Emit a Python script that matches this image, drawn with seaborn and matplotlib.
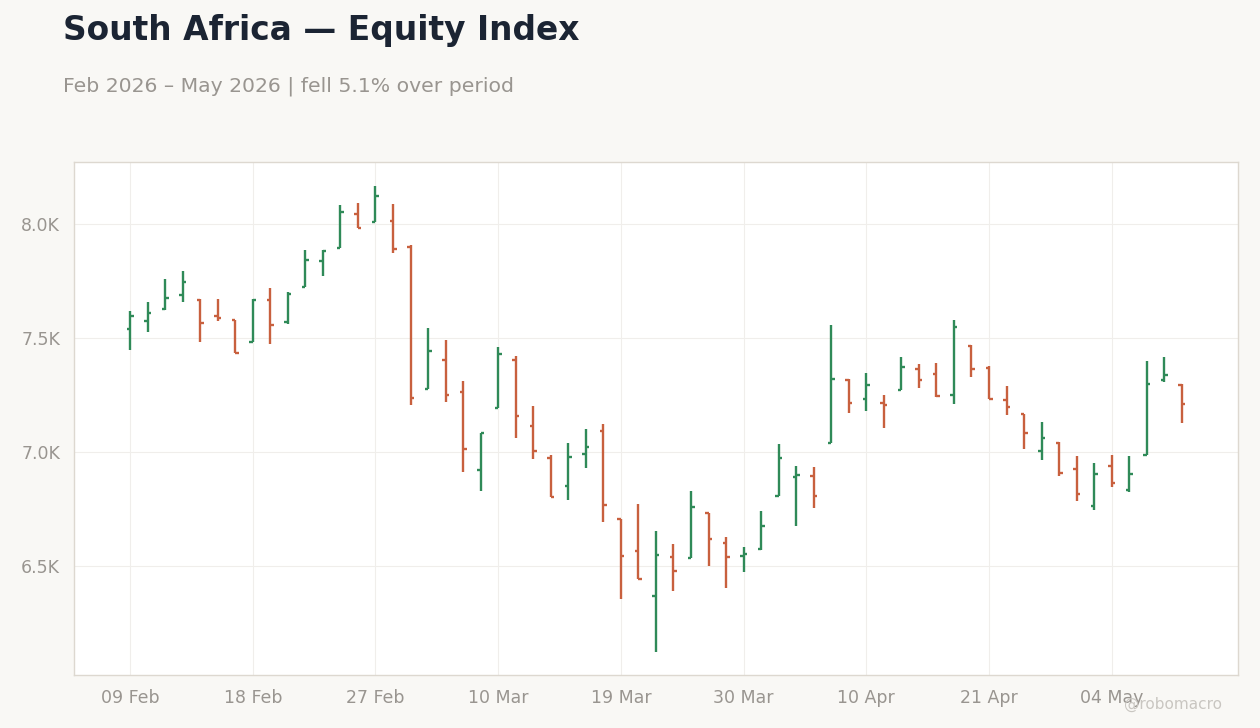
import matplotlib
matplotlib.use("Agg")
import matplotlib.pyplot as plt
import seaborn as sns
import numpy as np
import pandas as pd
from matplotlib.ticker import FuncFormatter, FixedLocator

# ---- data ----
holidays = ["2026-04-03", "2026-04-06", "2026-04-27", "2026-05-01"]
dates = pd.bdate_range("2026-02-09", "2026-05-08", freq="C", holidays=holidays)

opens = [7539, 7576, 7629, 7690, 7668, 7598, 7580, 7482, 7668, 7572,
         7725, 7839, 7896, 8045, 8010, 8014, 7900, 7276, 7405, 7265,
         6922, 7193, 7405, 7116, 6975, 6853, 6993, 7093, 6705, 6567,
         6370, 6541, 6535, 6734, 6602, 6545, 6575, 6809, 6892, 6896,
         7041, 7317, 7234, 7216, 7273, 7365, 7343, 7251, 7466, 7370,
         7229, 7168, 7006, 7041, 6927, 6765, 6940, 6833, 6987, 7317,
         7295]
highs = [7618, 7658, 7759, 7794, 7671, 7671, 7580, 7671, 7719, 7700,
         7886, 7886, 8083, 8092, 8167, 8088, 7906, 7544, 7491, 7311,
         7085, 7461, 7421, 7202, 6985, 7040, 7101, 7123, 6706, 6772,
         6654, 6596, 6829, 6734, 6627, 6583, 6741, 7035, 6939, 6934,
         7557, 7319, 7346, 7249, 7415, 7384, 7389, 7578, 7469, 7377,
         7289, 7168, 7132, 7044, 6982, 6952, 6987, 6982, 7401, 7417,
         7298]
lows = [7447, 7526, 7623, 7659, 7484, 7576, 7436, 7481, 7472, 7560,
        7722, 7773, 7895, 7981, 8009, 7871, 7207, 7276, 7221, 6914,
        6830, 7192, 7063, 6971, 6803, 6791, 6931, 6694, 6355, 6442,
        6124, 6390, 6534, 6502, 6405, 6475, 6572, 6805, 6677, 6756,
        7041, 7172, 7181, 7107, 7272, 7282, 7240, 7209, 7330, 7232,
        7164, 7015, 6966, 6896, 6786, 6747, 6848, 6826, 6985, 7308,
        7129]
closes = [7598, 7611, 7677, 7747, 7566, 7589, 7434, 7668, 7558, 7694,
          7843, 7883, 8054, 7982, 8124, 7890, 7237, 7444, 7250, 7015,
          7085, 7431, 7159, 7006, 6803, 6980, 7023, 6769, 6545, 6443,
          6550, 6479, 6759, 6618, 6541, 6554, 6675, 6975, 6900, 6809,
          7320, 7216, 7294, 7206, 7374, 7316, 7246, 7550, 7364, 7232,
          7197, 7083, 7063, 6908, 6817, 6905, 6864, 6905, 7298, 7339,
          7211]

title = "South Africa \u2014 Equity Index"
subtitle = "Feb 2026 \u2013 May 2026 | fell 5.1% over period"
watermark = "@robomacro"

# ---- style ----
sns.set_theme(style="whitegrid")
plt.rcParams["font.family"] = ["DejaVu Sans"]

BG = "#f9f8f5"
GREEN = "#2f8a58"
RED = "#c8603e"
TICK_COLOR = "#999590"
SPINE = "#ddd8d0"

df = pd.DataFrame({"date": dates, "open": opens, "high": highs,
                   "low": lows, "close": closes})
df["pos"] = np.arange(len(df))
df["up"] = df["close"] >= df["open"]

fig = plt.figure(figsize=(12.6, 7.28), dpi=100, facecolor=BG)
ax = fig.add_axes([0.0587, 0.0728, 0.9238, 0.7047])
ax.set_facecolor("white")

w = 0.2
lw = 1.7
for up, color in [(True, GREEN), (False, RED)]:
    d = df[df["up"] == up]
    ax.vlines(d["pos"], d["low"], d["high"], color=color, lw=lw, zorder=3)
    ax.hlines(d["open"], d["pos"] - w, d["pos"], color=color, lw=lw, zorder=3)
    ax.hlines(d["close"], d["pos"], d["pos"] + w, color=color, lw=lw, zorder=3)

ax.set_xlim(-3.2, 63.2)
ax.set_ylim(6022, 8272)

tick_pos = list(range(0, len(df), 7))
ax.xaxis.set_major_locator(FixedLocator(tick_pos))
ax.set_xticklabels([df["date"].iloc[i].strftime("%d %b") for i in tick_pos])
ax.yaxis.set_major_locator(FixedLocator([6500, 7000, 7500, 8000]))
ax.yaxis.set_major_formatter(FuncFormatter(lambda v, p: f"{v/1000:.1f}K"))

ax.grid(True, color="#f0eeeb", lw=0.8)
ax.tick_params(axis="both", colors=TICK_COLOR, labelsize=12.5, length=4,
               width=1, direction="out", pad=6)
ax.tick_params(axis="both", labelcolor=TICK_COLOR)
for s in ax.spines.values():
    s.set_color(SPINE)
    s.set_linewidth(1.0)
ax.set_xlabel("")
ax.set_ylabel("")

fig.text(0.05, 0.958, title, fontsize=23.7, fontweight="bold", color="#1b2433",
         ha="left", va="center")
fig.text(0.05, 0.881, subtitle, fontsize=14.65, color="#999590",
         ha="left", va="center")
fig.text(0.97, 0.032, watermark, fontsize=11, color="#c9c6c1",
         ha="right", va="center")

fig.savefig("out.png", dpi=100, facecolor=BG)
